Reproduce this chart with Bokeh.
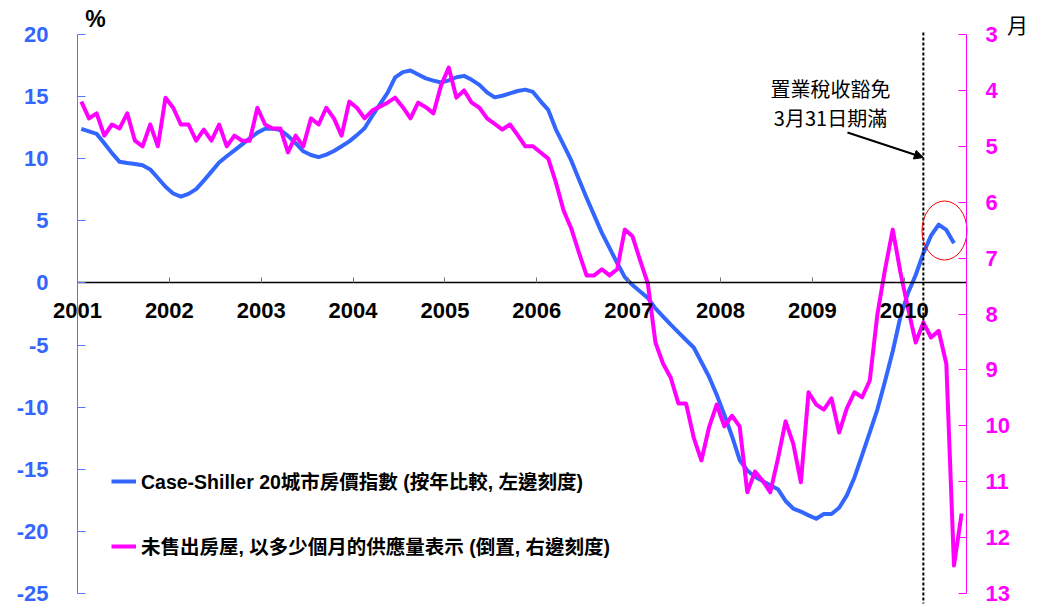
from bokeh.plotting import figure
from bokeh.models import (Range1d, LinearAxis, FixedTicker, Arrow, NormalHead,
                          Label, Legend, LegendItem)
from bokeh.embed import file_html
from bokeh.resources import INLINE

# ---------------- data (monthly, starting Jan 2001) ----------------
start_year = 2001
# Case-Shiller 20-city index, % YoY (left scale), Jan 2001 - Jul 2010
cs20_yoy = [
    12.4, 12.2, 12.0, 11.25, 10.45, 9.75, 9.65, 9.58, 9.47, 9.14, 8.45, 7.74,
    7.2, 6.95, 7.17, 7.55, 8.24, 8.96, 9.69, 10.2, 10.67, 11.16, 11.64, 12.1,
    12.41, 12.42, 12.3, 11.84, 11.25, 10.6, 10.3, 10.13, 10.33, 10.62, 11.0, 11.4,
    11.9, 12.45, 13.45, 14.38, 15.3, 16.55, 16.97, 17.1, 16.78, 16.47, 16.29, 16.14,
    16.31, 16.56, 16.67, 16.35, 15.95, 15.34, 14.94, 15.07, 15.26, 15.45, 15.56, 15.38,
    14.62, 13.93, 12.35, 11.12, 9.86, 8.34, 6.85, 5.44, 4.03, 2.82, 1.6, 0.47,
    -0.17, -0.69, -1.2, -2.05, -2.71, -3.36, -3.98, -4.59, -5.2, -6.36, -7.55, -9.0,
    -10.6, -12.34, -14.25, -15.1, -15.6, -15.95, -16.28, -16.6, -17.55, -18.16, -18.4, -18.71,
    -18.98, -18.6, -18.6, -18.1, -17.1, -15.66, -13.86, -12.03, -10.17, -7.9, -5.5, -2.74,
    -0.8, 0.64, 2.4, 3.8, 4.7, 4.27, 3.2,
]
# Unsold homes, months of supply (right scale, inverted), Jan 2001 - Aug 2010
months_supply = [
    4.2, 4.5, 4.41, 4.81, 4.61, 4.68, 4.41, 4.9, 5.0, 4.61, 5.0, 4.13,
    4.31, 4.61, 4.61, 4.9, 4.7, 4.9, 4.61, 5.0, 4.81, 4.9, 4.9, 4.31,
    4.61, 4.68, 4.68, 5.11, 4.81, 5.0, 4.5, 4.61, 4.31, 4.5, 4.81, 4.2,
    4.31, 4.5, 4.36, 4.29, 4.22, 4.13, 4.3, 4.5, 4.22, 4.3, 4.41, 3.91,
    3.59, 4.13, 4.0, 4.22, 4.31, 4.5, 4.6, 4.7, 4.61, 4.8, 5.0, 5.0,
    5.11, 5.22, 5.65, 6.15, 6.47, 6.9, 7.31, 7.31, 7.2, 7.31, 7.2, 6.49,
    6.61, 7.04, 7.45, 8.51, 8.89, 9.14, 9.6, 9.6, 10.21, 10.62, 10.03, 9.62,
    10.01, 9.82, 10.01, 11.19, 10.82, 10.98, 11.19, 10.59, 9.92, 10.32, 11.01, 9.4,
    9.62, 9.71, 9.51, 10.12, 9.69, 9.4, 9.49, 9.19, 8.0, 7.2, 6.49, 7.25,
    7.9, 8.51, 8.15, 8.42, 8.3, 8.89, 12.5, 11.57,
]
years = list(range(2001, 2011))
year_labels = [str(y) for y in years]
left_ticks = [-25, -20, -15, -10, -5, 0, 5, 10, 15, 20]
left_tick_labels = ["-25", "-20", "-15", "-10", "-5", "0", "5", "10", "15", "20"]
right_ticks = [3, 4, 5, 6, 7, 8, 9, 10, 11, 12, 13]
right_tick_labels = [str(t) for t in right_ticks]
event_month_index = 110  # March 2010: tax credit expiry
legend_cs = "Case-Shiller 20城市房價指數 (按年比較, 左邊刻度)"
legend_ms = "未售出房屋, 以多少個月的供應量表示 (倒置, 右邊刻度)"
note_line1 = "置業稅收豁免"
note_line2 = "3月31日期滿"
left_unit = "%"
right_unit = "月"

BLUE = "#3366FF"
AXBLUE = "#5577FF"
MAGENTA = "#FF00FF"
LATIN = "Liberation Sans"
CJK = "Noto Sans CJK TC"
MIXED = "Liberation Sans, Noto Sans CJK TC"

# ---------------- layout (pixels) ----------------
W, H = 1030, 605
FL, FR, FT, FB = 77, 966, 34, 593      # plot area edges in canvas pixels
X0, X1 = 2001.0, 2010.678
Y0, Y1 = -25.0, 20.0
R_TOP, R_BOT = 3.0, 13.0
sx = (FR - FL) / (X1 - X0)
sy = (FB - FT) / (Y1 - Y0)
sr = (FB - FT) / (R_BOT - R_TOP)


def dx(px):
    return X0 + (px - FL) / sx


def dy(py):
    return Y1 - (py - FT) / sy


def month_x(i):
    return start_year + (i + 0.5) / 12.0


x_cs = [month_x(i) for i in range(len(cs20_yoy))]
x_ms = [month_x(i) for i in range(len(months_supply))]
event_x = month_x(event_month_index)

p = figure(width=W, height=H, output_backend="svg", toolbar_location=None,
           x_range=Range1d(dx(0), dx(W)), y_range=Range1d(dy(H), dy(0)),
           x_axis_type=None, y_axis_type=None,
           min_border_left=0, min_border_right=0, min_border_top=0, min_border_bottom=0)
p.title.visible = False
p.outline_line_color = None
p.grid.visible = False
p.background_fill_color = "white"
p.border_fill_color = "white"

p.extra_y_ranges = {"months": Range1d(R_BOT + (H - FB) / sr, R_TOP - FT / sr)}


def style_axis(ax, color, line_color, standoff, tick_in):
    ax.axis_line_color = line_color
    ax.axis_line_width = 1
    ax.major_tick_line_color = line_color
    ax.major_tick_in = tick_in
    ax.major_tick_out = 0
    ax.minor_tick_line_color = None
    ax.major_label_standoff = standoff
    ax.major_label_text_color = color
    ax.major_label_text_font = LATIN
    ax.major_label_text_font_style = "bold"
    ax.major_label_text_font_size = "22px"


# left axis
la = LinearAxis(ticker=FixedTicker(ticks=left_ticks), fixed_location=X0, bounds=(Y0, Y1),
                major_label_overrides=dict(zip(left_ticks, left_tick_labels)))
style_axis(la, BLUE, AXBLUE, 29, 8)
p.add_layout(la, "left")

# right axis (inverted months of supply)
ra = LinearAxis(y_range_name="months", ticker=FixedTicker(ticks=right_ticks),
                fixed_location=X1, bounds=(R_TOP, R_BOT),
                major_label_overrides=dict(zip(right_ticks, right_tick_labels)))
style_axis(ra, MAGENTA, MAGENTA, 19, 8)
p.add_layout(ra, "right")

# series
r_cs = p.line(x_cs, cs20_yoy, line_color=BLUE, line_width=4, line_join="round")
r_ms = p.line(x_ms, months_supply, y_range_name="months", line_color=MAGENTA,
              line_width=4, line_join="round")

# x axis crossing at zero
xa = LinearAxis(ticker=FixedTicker(ticks=years), fixed_location=0, bounds=(X0, X1),
                major_label_overrides=dict(zip(years, year_labels)))
style_axis(xa, "black", "black", 20, 5)
xa.axis_line_width = 1.5
xa.major_tick_line_color = "#777777"
p.add_layout(xa, "below")

# event marker
p.segment(x0=[event_x], y0=[dy(32)], x1=[event_x], y1=[dy(603)],
          line_color="black", line_width=2, line_dash="3 2")
p.add_layout(Arrow(end=NormalHead(size=9, fill_color="black", line_color="black"),
                   x_start=dx(847), y_start=dy(132), x_end=event_x, y_end=dy(157),
                   line_width=2, line_color="black"))
for txt, py in ((note_line1, 88), (note_line2, 117)):
    p.add_layout(Label(x=dx(830), y=dy(py), text=txt, text_align="center",
                       text_baseline="middle", text_font=CJK,
                       text_font_size="20px", text_color="black"))

# highlight ellipse around latest rebound
p.ellipse(x=[dx(944)], y=[dy(230)], width=45 / sx, height=59 / sy, fill_color=None,
          line_color="red", line_width=1)

# unit labels
p.add_layout(Label(x=dx(95), y=dy(18), text=left_unit, text_align="center",
                   text_baseline="middle", text_font=LATIN, text_font_style="bold",
                   text_font_size="23px", text_color="black"))
p.add_layout(Label(x=dx(1017), y=dy(23), text=right_unit, text_align="center",
                   text_baseline="middle", text_font=CJK,
                   text_font_size="21px", text_color="black"))


# legends
def make_legend(label, rend, loc):
    lg = Legend(items=[LegendItem(label=label, renderers=[rend])], location=loc,
                background_fill_alpha=0, border_line_color=None, padding=0, margin=0,
                glyph_width=25, glyph_height=20, label_standoff=5,
                label_text_font=MIXED, label_text_font_style="bold",
                label_text_font_size="19.5px", label_text_color="black")
    p.add_layout(lg)
    return lg


make_legend(legend_cs, r_cs, (111, 110))
make_legend(legend_ms, r_ms, (111, 45))

open("out.html", "w").write(file_html(p, INLINE))
